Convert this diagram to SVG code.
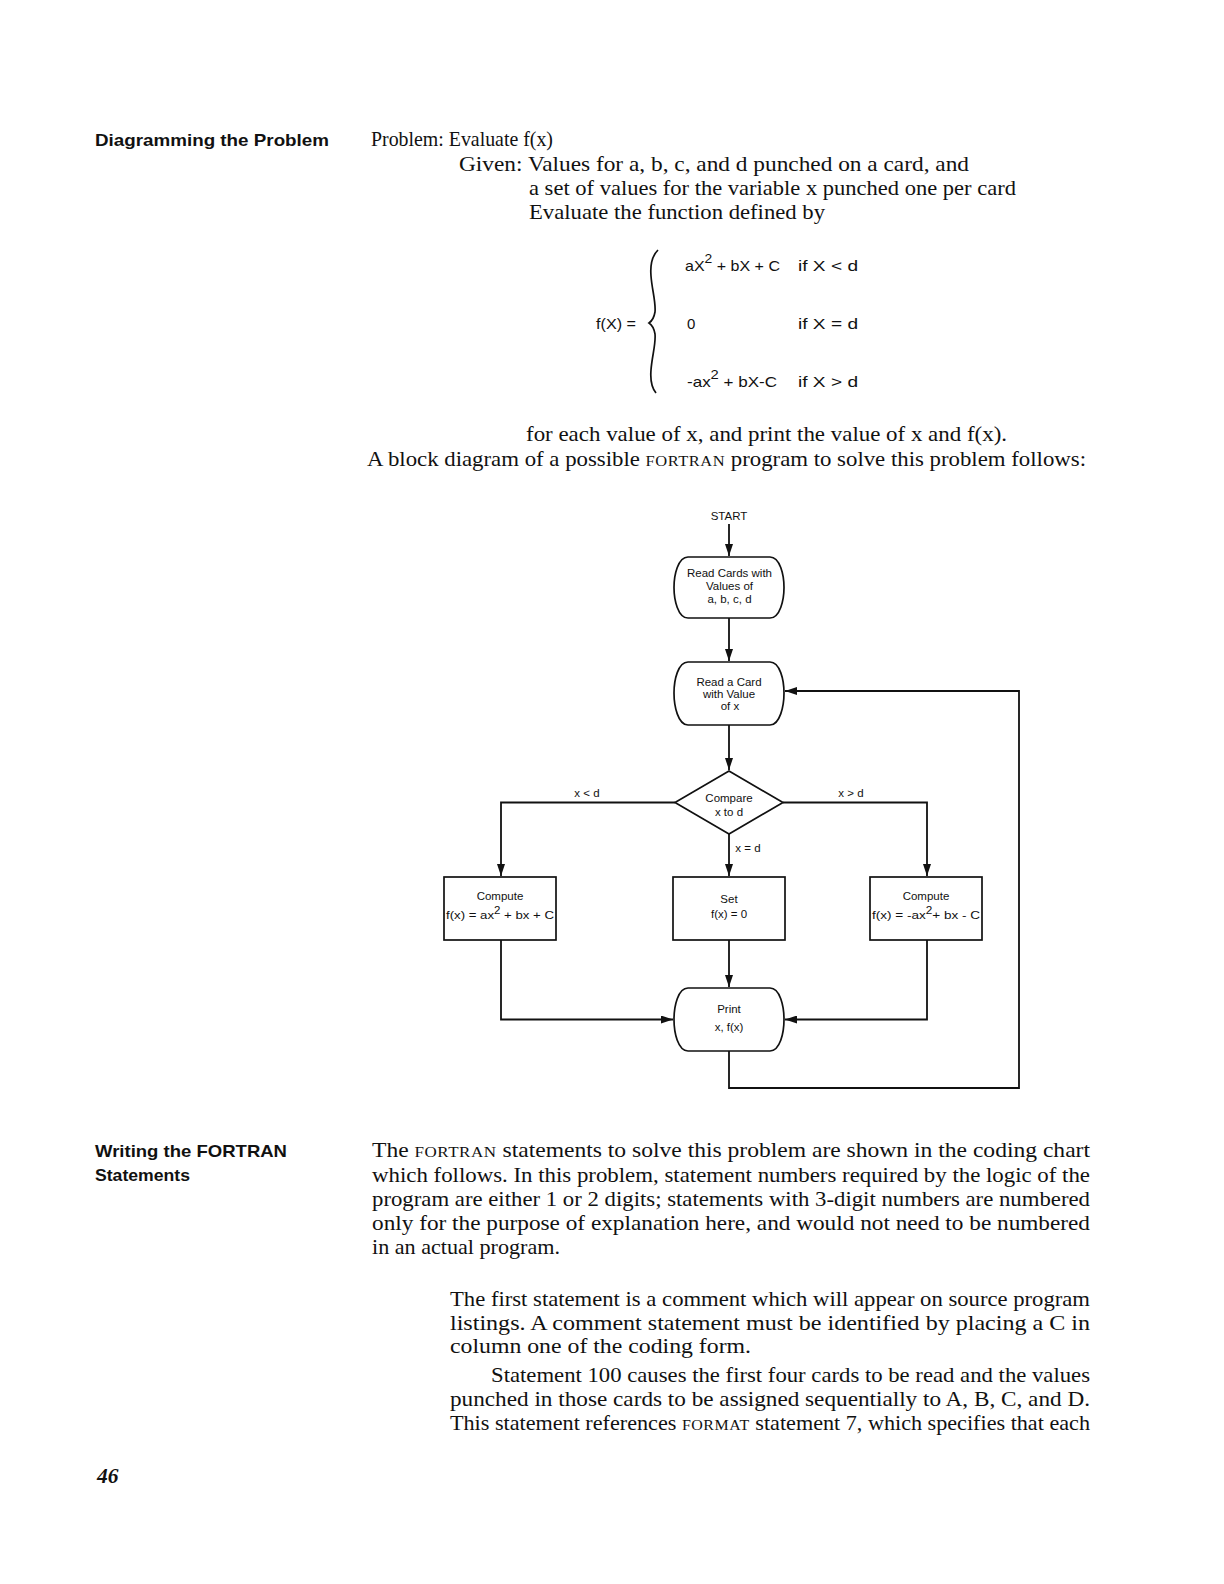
<svg xmlns="http://www.w3.org/2000/svg" width="1224" height="1584" viewBox="0 0 1224 1584">
<style>
.body{font-family:"Liberation Serif","Times New Roman",serif;font-size:21.5px;fill:#111}
.sc{font-size:15.5px;letter-spacing:0.5px}
.head{font-family:"Liberation Sans",Arial,sans-serif;font-weight:bold;font-size:17px;fill:#111}
.math{font-family:"Liberation Sans",Arial,sans-serif;font-size:15px;fill:#111}
.sup{font-size:13px}
.fc{font-family:"Liberation Sans",Arial,sans-serif;font-size:11.5px;fill:#111;text-anchor:middle}
.shape{fill:#fff;stroke:#111;stroke-width:1.7}
.conn{fill:none;stroke:#111;stroke-width:1.8}
</style>
<defs>
<marker id="ah" viewBox="0 0 12 8" refX="12" refY="4" markerWidth="12" markerHeight="8" markerUnits="userSpaceOnUse" orient="auto">
<path d="M0,0 L12,4 L0,8 Z" fill="#111"/>
</marker>
</defs>
<rect width="1224" height="1584" fill="#fff"/>

<!-- Header text -->
<text class="head" x="95" y="146" textLength="234" lengthAdjust="spacingAndGlyphs">Diagramming the Problem</text>
<text class="body" x="371" y="146" textLength="182" lengthAdjust="spacingAndGlyphs">Problem: Evaluate f(x)</text>
<text class="body" x="459" y="171" textLength="510" lengthAdjust="spacingAndGlyphs">Given: Values for a, b, c, and d punched on a card, and</text>
<text class="body" x="529" y="195" textLength="487" lengthAdjust="spacingAndGlyphs">a set of values for the variable x punched one per card</text>
<text class="body" x="529" y="219" textLength="296" lengthAdjust="spacingAndGlyphs">Evaluate the function defined by</text>

<!-- Formula -->
<g id="formula">
<text class="math" x="596" y="329" textLength="40" lengthAdjust="spacingAndGlyphs">f(X) =</text>
<path d="M658,250 C652,256 650,264 651,276 C652,290 656,302 655,312 C654,318 652,321 649,323 C652,325 654,328 655,334 C656,344 652,356 651,370 C650,382 652,388 656,393" fill="none" stroke="#111" stroke-width="1.7"/>
<text class="math" x="685" y="271" textLength="95" lengthAdjust="spacingAndGlyphs">aX<tspan class="sup" dy="-8">2</tspan><tspan dy="8"> + bX + C</tspan></text>
<text class="math" x="798" y="271" textLength="60" lengthAdjust="spacingAndGlyphs">if X &lt; d</text>
<text class="math" x="687" y="329">0</text>
<text class="math" x="798" y="329" textLength="60" lengthAdjust="spacingAndGlyphs">if X  =  d</text>
<text class="math" x="687" y="387" textLength="90" lengthAdjust="spacingAndGlyphs">-ax<tspan class="sup" dy="-8">2</tspan><tspan dy="8"> + bX-C</tspan></text>
<text class="math" x="798" y="387" textLength="60" lengthAdjust="spacingAndGlyphs">if X &gt; d</text>
</g>

<text class="body" x="526" y="441" textLength="481" lengthAdjust="spacingAndGlyphs">for each value of x, and print the value of x and f(x).</text>
<text class="body" x="367" y="466" textLength="719" lengthAdjust="spacingAndGlyphs">A block diagram of a possible <tspan class="sc">FORTRAN</tspan> program to solve this problem follows:</text>

<!-- Flowchart -->
<g id="start"><text class="fc" x="729" y="520">START</text></g>

<g id="read-cards">
<path class="shape" d="M688,557 H770 C780,557 784,575 784,587.5 C784,600 780,618 770,618 H688 C678,618 674,600 674,587.5 C674,575 678,557 688,557 Z"/>
<text class="fc" x="729.5" y="577">Read Cards with</text>
<text class="fc" x="729.5" y="590">Values of</text>
<text class="fc" x="729.5" y="603">a, b, c, d</text>
</g>

<g id="read-x">
<path class="shape" d="M688,662 H770 C780,662 784,680 784,693 C784,706 780,725 770,725 H688 C678,725 674,706 674,693 C674,680 678,662 688,662 Z"/>
<text class="fc" x="729" y="686">Read a Card</text>
<text class="fc" x="729" y="698">with Value</text>
<text class="fc" x="730" y="710">of x</text>
</g>

<g id="compare">
<path class="shape" d="M729,771 L783,802.5 L729,834 L675,802.5 Z"/>
<text class="fc" x="729" y="802">Compare</text>
<text class="fc" x="729" y="816">x to d</text>
</g>

<g id="compute-lt">
<rect class="shape" x="444" y="877" width="112" height="63"/>
<text class="fc" x="500" y="900">Compute</text>
<text class="fc" x="500" y="919" textLength="108" lengthAdjust="spacingAndGlyphs">f(x) = ax<tspan font-size="10" dy="-5">2</tspan><tspan dy="5"> + bx + C</tspan></text>
</g>

<g id="set-zero">
<rect class="shape" x="673" y="877" width="112" height="63"/>
<text class="fc" x="729" y="903">Set</text>
<text class="fc" x="729" y="918">f(x) = 0</text>
</g>

<g id="compute-gt">
<rect class="shape" x="870" y="877" width="112" height="63"/>
<text class="fc" x="926" y="900">Compute</text>
<text class="fc" x="926" y="919" textLength="108" lengthAdjust="spacingAndGlyphs">f(x) = -ax<tspan font-size="10" dy="-5">2</tspan><tspan dy="5">+ bx - C</tspan></text>
</g>

<g id="print">
<path class="shape" d="M688,988 H770 C780,988 784,1006 784,1019.5 C784,1033 780,1051 770,1051 H688 C678,1051 674,1033 674,1019.5 C674,1006 678,988 688,988 Z"/>
<text class="fc" x="729" y="1013">Print</text>
<text class="fc" x="729" y="1031">x, f(x)</text>
</g>

<g id="connectors">
<path class="conn" d="M729,524 V556" marker-end="url(#ah)"/>
<path class="conn" d="M729,618 V661" marker-end="url(#ah)"/>
<path class="conn" d="M729,725 V770" marker-end="url(#ah)"/>
<path class="conn" d="M675,802.5 H501 V876" marker-end="url(#ah)"/>
<path class="conn" d="M783,802.5 H927 V876" marker-end="url(#ah)"/>
<path class="conn" d="M729,834 V876" marker-end="url(#ah)"/>
<path class="conn" d="M729,940 V987" marker-end="url(#ah)"/>
<path class="conn" d="M501,940 V1019.5 H673" marker-end="url(#ah)"/>
<path class="conn" d="M927,940 V1019.5 H785" marker-end="url(#ah)"/>
<path class="conn" d="M729,1051 V1088 H1019 V691 H785" marker-end="url(#ah)"/>
<text class="fc" x="587" y="797">x &lt; d</text>
<text class="fc" x="851" y="797">x &gt; d</text>
<text class="fc" x="748" y="852">x = d</text>
</g>

<!-- Lower text -->
<text class="head" x="95" y="1157" textLength="192" lengthAdjust="spacingAndGlyphs">Writing the FORTRAN</text>
<text class="head" x="95" y="1181" textLength="95" lengthAdjust="spacingAndGlyphs">Statements</text>

<text class="body" x="372" y="1157" textLength="718" lengthAdjust="spacingAndGlyphs">The <tspan class="sc">FORTRAN</tspan> statements to solve this problem are shown in the coding chart</text>
<text class="body" x="372" y="1182" textLength="718" lengthAdjust="spacingAndGlyphs">which follows. In this problem, statement numbers required by the logic of the</text>
<text class="body" x="372" y="1206" textLength="718" lengthAdjust="spacingAndGlyphs">program are either 1 or 2 digits; statements with 3-digit numbers are numbered</text>
<text class="body" x="372" y="1230" textLength="718" lengthAdjust="spacingAndGlyphs">only for the purpose of explanation here, and would not need to be numbered</text>
<text class="body" x="372" y="1254" textLength="188" lengthAdjust="spacingAndGlyphs">in an actual program.</text>

<text class="body" x="450" y="1306" textLength="640" lengthAdjust="spacingAndGlyphs">The first statement is a comment which will appear on source program</text>
<text class="body" x="450" y="1330" textLength="640" lengthAdjust="spacingAndGlyphs">listings. A comment statement must be identified by placing a C in</text>
<text class="body" x="450" y="1353" textLength="301" lengthAdjust="spacingAndGlyphs">column one of the coding form.</text>
<text class="body" x="491" y="1382" textLength="599" lengthAdjust="spacingAndGlyphs">Statement 100 causes the first four cards to be read and the values</text>
<text class="body" x="450" y="1406" textLength="640" lengthAdjust="spacingAndGlyphs">punched in those cards to be assigned sequentially to A, B, C, and D.</text>
<text class="body" x="450" y="1430" textLength="640" lengthAdjust="spacingAndGlyphs">This statement references <tspan class="sc">FORMAT</tspan> statement 7, which specifies that each</text>

<text class="body" x="97" y="1483" font-style="italic" font-weight="bold" font-size="19">46</text>
</svg>
